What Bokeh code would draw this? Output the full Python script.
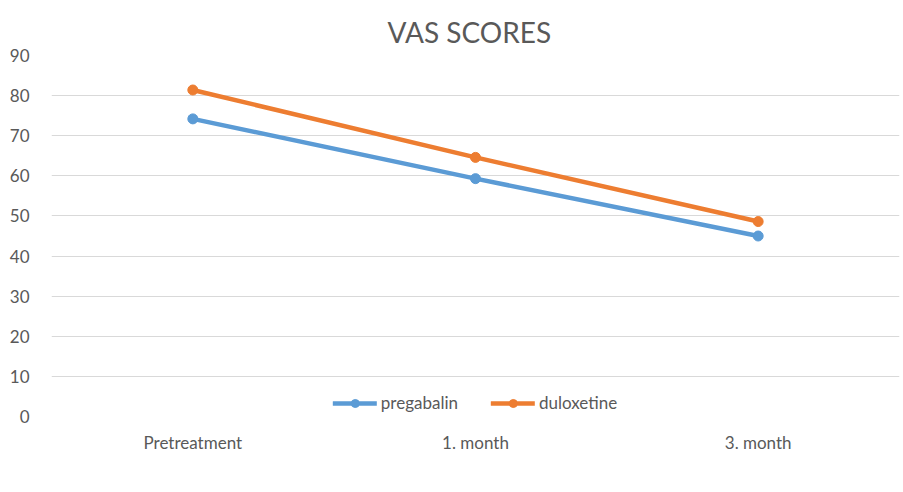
from bokeh.plotting import figure
from bokeh.models import Range1d, FactorRange, Legend, LegendItem, SingleIntervalTicker
from bokeh.embed import file_html
from bokeh.resources import INLINE

categories = ["Pretreatment", "1. month", "3. month"]
pregabalin = [74.2, 59.3, 45.0]
duloxetine = [81.4, 64.6, 48.6]
series_names = ["pregabalin", "duloxetine"]
series_colors = ["#5B9BD5", "#ED7D31"]
title_text = "VAS SCORES"

FONT = "Lato"
TXT = "#595959"

p = figure(width=903, height=492, x_range=FactorRange(*categories),
           y_range=Range1d(0, 90), output_backend="svg", toolbar_location=None,
           min_border_left=51, min_border_right=4, min_border_top=55, min_border_bottom=76)
p.outline_line_color = None
p.background_fill_color = "white"
p.border_fill_color = "white"

p.title.text = title_text
p.title.text_font = FONT
p.title.text_font_size = "28px"
p.title.text_font_style = "normal"
p.title.text_color = TXT
p.title.align = "left"
p.title.offset = 336
p.title.standoff = 14

renderers = []
for vals, col in zip([pregabalin, duloxetine], series_colors):
    ln = p.line(categories, vals, line_color=col, line_width=4.5, line_cap="round", line_join="round")
    sc = p.scatter(categories, vals, size=10, fill_color=col, line_color=col)
    renderers.append([ln, sc])

p.yaxis.ticker = SingleIntervalTicker(interval=10)
for ax in (p.xaxis[0], p.yaxis[0]):
    ax.axis_line_color = None
    ax.major_tick_line_color = None
    ax.minor_tick_line_color = None
    ax.major_tick_in = 0
    ax.major_tick_out = 0
    ax.major_label_text_font = FONT
    ax.major_label_text_font_size = "17px"
    ax.major_label_text_color = TXT
p.yaxis.major_label_standoff = 18
p.xaxis.major_label_standoff = 15
p.xgrid.grid_line_color = None
p.ygrid.grid_line_color = "#D9D9D9"
p.ygrid.grid_line_width = 1

legend = Legend(items=[LegendItem(label=n, renderers=r) for n, r in zip(series_names, renderers)],
                orientation="horizontal", location="bottom_center", margin=3, padding=0,
                spacing=33, glyph_width=44, glyph_height=20, label_standoff=4,
                label_text_font=FONT, label_text_font_size="17px", label_text_color=TXT,
                border_line_alpha=0, background_fill_alpha=0)
p.add_layout(legend)

open("out.html", "w").write(file_html(p, INLINE))
